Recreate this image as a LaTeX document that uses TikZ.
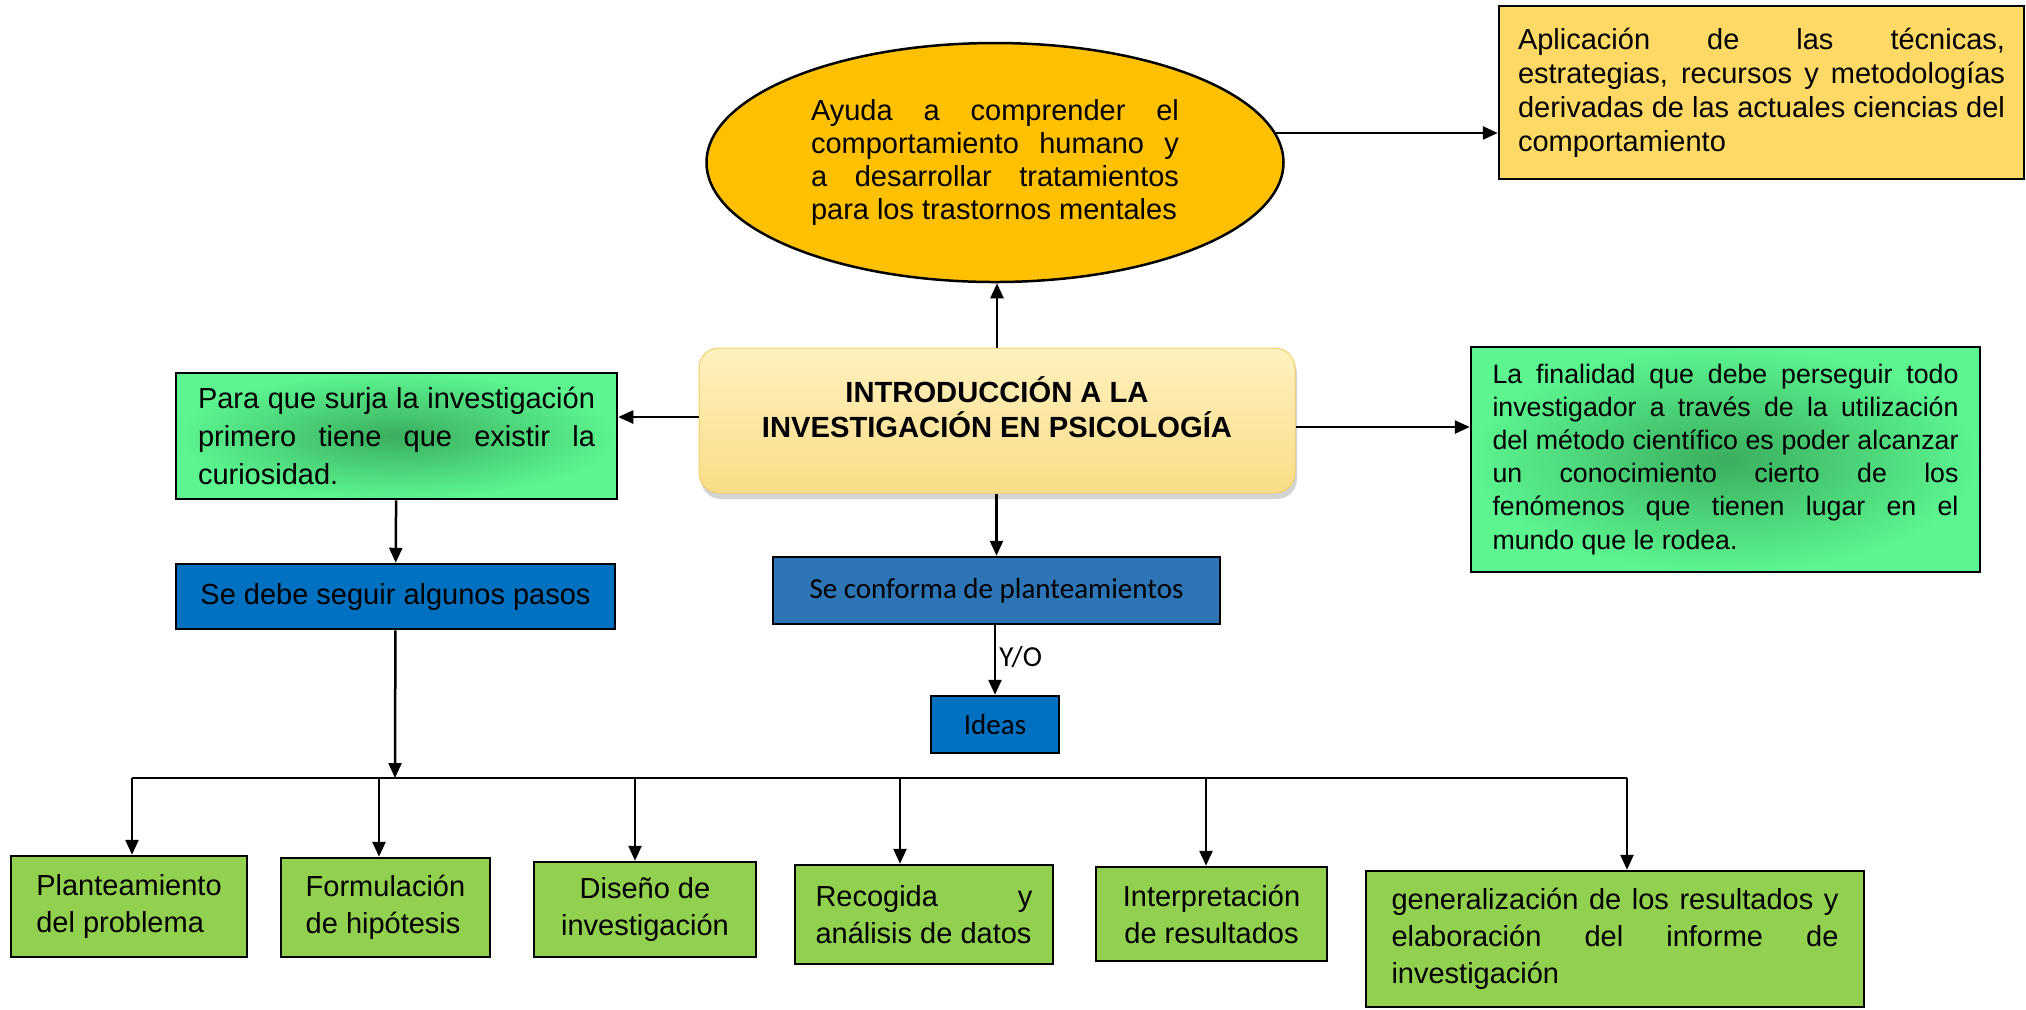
\documentclass[tikz,border=0pt]{standalone}
\usepackage{fontspec}
\setmainfont{Liberation Sans}
\newfontfamily\calibri{Carlito}
\usetikzlibrary{shapes.geometric}
\usetikzlibrary{shadows}
\usetikzlibrary{arrows.meta}

\definecolor{amarillo}{HTML}{FFC000}
\definecolor{crema}{HTML}{FFD966}
\definecolor{verdeclaro}{HTML}{5CF590}
\definecolor{verdeoscuro}{HTML}{3AAE5E}
\definecolor{azul}{HTML}{0070C0}
\definecolor{azulmedio}{HTML}{2E75B6}
\definecolor{verdepaso}{HTML}{92D050}
\definecolor{titulosup}{HTML}{FFF1BF}
\definecolor{tituloinf}{HTML}{F9DC86}
\definecolor{tituloborde}{HTML}{F0CF6E}

\newcommand{\texto}{\fontsize{8.25}{9.6}\selectfont}
\hyphenpenalty=10000
\tolerance=9999

\tikzset{
  caja/.style={draw, line width=0.025cm, inner ysep=0pt},
  verde/.style={caja, inner color=verdeoscuro, outer color=verdeclaro},
  paso/.style={caja, fill=verdepaso, inner xsep=0pt, font=\fontsize{8.25}{10.5}\selectfont}
}

\begin{document}
\begin{tikzpicture}[>={Triangle[length=0.15cm,width=0.13cm]}, line width=0.025cm]
\useasboundingbox (0,0) rectangle (20.26,-10.09);
\node[ellipse, draw, fill=amarillo, minimum width=5.77cm, minimum height=2.39cm, inner sep=0pt, text width=3.68cm, align=justify, font=\fontsize{8.25}{9.4}\selectfont] (ayuda) at (9.95,-1.625) {Ayuda a comprender el\linebreak comportamiento humano y\linebreak a desarrollar tratamientos\linebreak para los trastornos mentales};
\node[caja, fill=crema, text width=4.87cm, inner xsep=0.19cm, minimum height=1.73cm, align=justify, font=\fontsize{8.25}{9.7}\selectfont] (aplicacion) at (17.615,-0.925) {Aplicación de las técnicas,\linebreak estrategias, recursos y metodologías\linebreak derivadas de las actuales ciencias del\linebreak comportamiento};
\node[draw=tituloborde, line width=0.01cm, top color=titulosup, bottom color=tituloinf, rounded corners=0.2cm, minimum width=5.96cm, minimum height=1.45cm, drop shadow={opacity=0.35, shadow xshift=0.02cm, shadow yshift=-0.06cm}, label={[name=titulo, yshift=0.13cm, align=center, font=\bfseries\fontsize{8.3}{10}\selectfont]center:INTRODUCCIÓN A LA\\INVESTIGACIÓN EN PSICOLOGÍA}] (intro) at (9.97,-4.205) {};
\node[verde, minimum height=1.26cm, text width=3.97cm, inner xsep=0.22cm, align=justify, font=\fontsize{8.25}{10.8}\selectfont] (curiosidad) at (3.965,-4.36) {Para que surja la investigación\linebreak primero tiene que existir la\linebreak curiosidad.};
\node[verde, minimum height=2.25cm, text width=4.66cm, inner xsep=0.215cm, align=justify, font=\fontsize{7.6}{9.4}\selectfont] (finalidad) at (17.255,-4.595) {La finalidad que debe perseguir todo\linebreak investigador a través de la utilización\linebreak del método científico es poder alcanzar\linebreak un conocimiento cierto de los\linebreak fenómenos que tienen lugar en el\linebreak mundo que le rodea.};
\node[caja, fill=azul, minimum width=4.39cm, minimum height=0.65cm, font=\texto] (pasos) at (3.955,-5.965) {Se debe seguir algunos pasos};
\node[caja, fill=azulmedio, minimum width=4.47cm, minimum height=0.67cm, font=\calibri\texto] (planteamientos) at (9.965,-5.905) {Se conforma de planteamientos};
\node[caja, fill=azul, minimum width=1.28cm, minimum height=0.57cm, font=\calibri\texto] (ideas) at (9.95,-7.245) {Ideas};
% pasos de la investigacion
\node[paso, minimum width=2.36cm, minimum height=1.01cm, align=left] (paso1) at (1.29,-9.065) {Planteamiento\\del problema};
\node[paso, minimum width=2.09cm, minimum height=0.99cm, align=left] (paso2) at (3.855,-9.075) {Formulación\\de hipótesis};
\node[paso, minimum width=2.22cm, minimum height=0.95cm, align=center] (paso3) at (6.45,-9.095) {Diseño de\\investigación};
\node[paso, text width=2.17cm, inner xsep=0.205cm, minimum height=0.99cm, align=justify] (paso4) at (9.24,-9.145) {Recogida y\linebreak análisis de datos};
\node[paso, minimum width=2.31cm, minimum height=0.94cm, align=center] (paso5) at (12.115,-9.14) {Interpretación\\de resultados};
\node[paso, text width=4.47cm, inner xsep=0.255cm, minimum height=1.36cm, align=justify] (paso6) at (16.15,-9.39) {generalización de los resultados y\linebreak elaboración del informe de\linebreak investigación};
\coordinate (bus) at (3.95,-7.78);
% flechas
\draw[->] (intro.north) -- (intro.north |- ayuda.south);
\draw[->] (ayuda.6) -- (ayuda.6 -| aplicacion.west);
\draw[->] ([yshift=0.035cm]intro.west) -- ([yshift=0.035cm]intro.west -| curiosidad.east);
\draw[->] ([yshift=-0.065cm]intro.east) -- ([yshift=-0.065cm]intro.east -| finalidad.west);
\draw[->] (planteamientos.north |- intro.south) -- (planteamientos.north);
\draw[->] (ideas.north |- planteamientos.south) -- (ideas.north) node[right, pos=0.46, inner sep=0.03cm, font=\calibri\texto] (yo) {Y/O};
\draw[->] (curiosidad) -- (pasos);
\draw[->] (pasos) -- (bus);
\draw ([xshift=0.03cm]paso1.north |- bus) -- ([xshift=0.12cm]paso6.north |- bus);
\draw[->] ([xshift=0.03cm]paso1.north |- bus) -- ([xshift=0.03cm]paso1.north);
\draw[->] ([xshift=-0.065cm]paso2.north |- bus) -- ([xshift=-0.065cm]paso2.north);
\draw[->] ([xshift=-0.1cm]paso3.north |- bus) -- ([xshift=-0.1cm]paso3.north);
\draw[->] ([xshift=-0.24cm]paso4.north |- bus) -- ([xshift=-0.24cm]paso4.north);
\draw[->] ([xshift=-0.055cm]paso5.north |- bus) -- ([xshift=-0.055cm]paso5.north);
\draw[->] ([xshift=0.12cm]paso6.north |- bus) -- ([xshift=0.12cm]paso6.north);
\end{tikzpicture}
\end{document}
